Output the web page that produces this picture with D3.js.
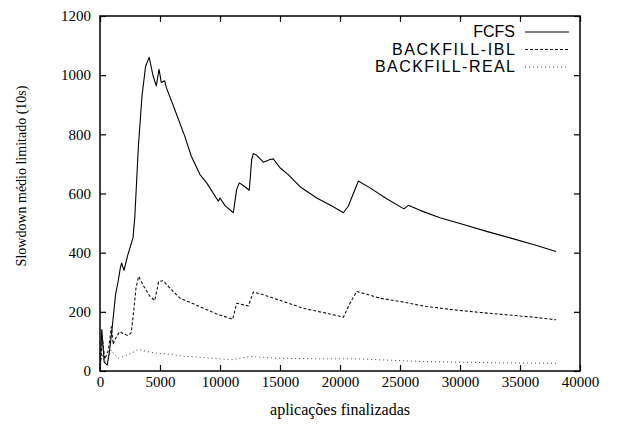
<!DOCTYPE html>
<html>
<head>
<meta charset="utf-8">
<script src="https://cdn.jsdelivr.net/npm/d3@7"></script>
<style>
  html, body { margin: 0; padding: 0; background: #fff; }
  svg { display: block; }
  .tick text { font-family: "Liberation Serif", "Times New Roman", serif; font-size: 15px; fill: #000; }
</style>
</head>
<body>
<svg id="chart" width="622" height="427"></svg>
<script>
// Series: applications finished (x) vs. bounded mean slowdown (y)
const fcfsX = [0,150,350,600,800,1000,1150,1300,1500,1700,1800,2000,2300,2750,2900,3100,3200,3500,3800,4100,4420,4690,4920,5110,5390,5530,6220,7060,7610,8330,8890,9860,10000,10420,11110,11390,11610,11940,12440,12640,12780,13060,13610,14170,14440,15000,15690,16670,18060,19440,20280,20690,21530,22500,23890,25330,25690,26670,28330,30280,32220,34170,36390,38000];
const fcfsY = [0,140,30,20,70,140,200,260,300,350,365,340,390,450,520,680,760,930,1030,1060,998,964,1020,975,981,958,885,794,726,664,636,574,585,559,535,614,636,627,611,715,735,729,706,715,717,687,664,623,585,555,535,557,642,619,582,548,560,543,518,495,472,450,424,404];

const iblX = [0,200,400,700,950,1100,1220,1640,2000,2330,2610,2800,3000,3220,3600,4000,4170,4560,4890,5280,5830,6670,7500,8610,9720,11060,11390,12360,12780,13610,15280,16940,18890,20280,20830,21390,22360,23330,25000,27220,29440,31670,33890,36110,38000];
const iblY = [0,110,40,70,150,90,105,133,125,120,130,200,280,320,290,263,252,238,303,305,280,246,232,212,193,175,229,220,267,258,235,212,195,182,229,269,258,246,235,218,207,198,190,182,173];

const realX = [0,150,400,700,940,1110,1500,2000,2610,3200,4000,4720,5390,7190,7500,10280,11000,12500,14720,18610,21390,26940,32500,38000];
const realY = [0,60,30,45,71,60,43,50,60,73,65,60,58,49,49,40,38,49,43,41,41,32,28,26];

const xTicks = [0,5000,10000,15000,20000,25000,30000,35000,40000];
const yTicks = [0,200,400,600,800,1000,1200];

const seriesNames = ["FCFS", "BACKFILL-IBL", "BACKFILL-REAL"];

const svg = d3.select("#chart");
const plotLeft = 100, plotRight = 580, plotTop = 16, plotBottom = 371;

const x = d3.scaleLinear().domain([0, 40000]).range([plotLeft, plotRight]);
const y = d3.scaleLinear().domain([0, 1200]).range([plotBottom, plotTop]);

// gnuplot-like inward ticks on all four sides
const axisB = d3.axisBottom(x).tickValues(xTicks).tickSize(-6).tickPadding(5).tickFormat(d3.format("d"));
const axisT = d3.axisTop(x).tickValues(xTicks).tickSize(-6).tickFormat("");
const axisL = d3.axisLeft(y).tickValues(yTicks).tickSize(-6).tickPadding(9).tickFormat(d3.format("d"));
const axisR = d3.axisRight(y).tickValues(yTicks).tickSize(-6).tickFormat("");

function styleAxis(g) {
  g.select(".domain").remove();
  g.selectAll(".tick line").attr("stroke", "#000").attr("stroke-width", 1.2);
}
svg.append("g").attr("transform", `translate(0,${plotBottom})`).call(axisB).call(styleAxis);
svg.append("g").attr("transform", `translate(0,${plotTop})`).call(axisT).call(styleAxis);
svg.append("g").attr("transform", `translate(${plotLeft},0)`).call(axisL).call(styleAxis);
svg.append("g").attr("transform", `translate(${plotRight},0)`).call(axisR).call(styleAxis);

// plot frame
svg.append("rect")
  .attr("x", plotLeft).attr("y", plotTop)
  .attr("width", plotRight - plotLeft).attr("height", plotBottom - plotTop)
  .attr("fill", "none").attr("stroke", "#000").attr("stroke-width", 1.5);

const line = d3.line().x(d => x(d[0])).y(d => y(d[1]));
const zip = (xs, ys) => xs.map((v, i) => [v, ys[i]]);

const styles = [
  { stroke: "#000", width: 1.1, dash: null },
  { stroke: "#111", width: 1.1, dash: "3,2" },
  { stroke: "#444", width: 1.0, dash: "1,3" }
];
const data = [zip(fcfsX, fcfsY), zip(iblX, iblY), zip(realX, realY)];

data.forEach((pts, i) => {
  svg.append("path")
    .datum(pts)
    .attr("d", line)
    .attr("fill", "none")
    .attr("stroke", styles[i].stroke)
    .attr("stroke-width", styles[i].width)
    .attr("stroke-dasharray", styles[i].dash)
    .attr("stroke-linejoin", "round");
});

// legend, top right inside the frame (wide letter spacing for the longer labels)
const legendWidths = [null, 123, 140];
const legend = svg.append("g");
seriesNames.forEach((name, i) => {
  const yy = 37 + i * 17.5;
  const t = legend.append("text")
    .attr("x", 515).attr("y", yy)
    .attr("text-anchor", "end")
    .style("font-family", "'Liberation Sans', Arial, sans-serif")
    .style("font-size", "16px")
    .text(name);
  if (legendWidths[i]) {
    t.attr("textLength", legendWidths[i]).attr("lengthAdjust", "spacing");
  }
  legend.append("line")
    .attr("x1", 525).attr("x2", 569)
    .attr("y1", yy - 5).attr("y2", yy - 5)
    .attr("stroke", styles[i].stroke)
    .attr("stroke-width", styles[i].width)
    .attr("stroke-dasharray", styles[i].dash);
});

// axis titles
svg.append("text")
  .attr("x", 340).attr("y", 415)
  .attr("text-anchor", "middle")
  .style("font-family", "'Liberation Serif', 'Times New Roman', serif")
  .style("font-size", "16px")
  .text("aplicações finalizadas");

svg.append("text")
  .attr("transform", "translate(26,176) rotate(-90)")
  .attr("text-anchor", "middle")
  .style("font-family", "'Liberation Serif', 'Times New Roman', serif")
  .style("font-size", "14px")
  .text("Slowdown médio limitado (10s)");
</script>
</body>
</html>
